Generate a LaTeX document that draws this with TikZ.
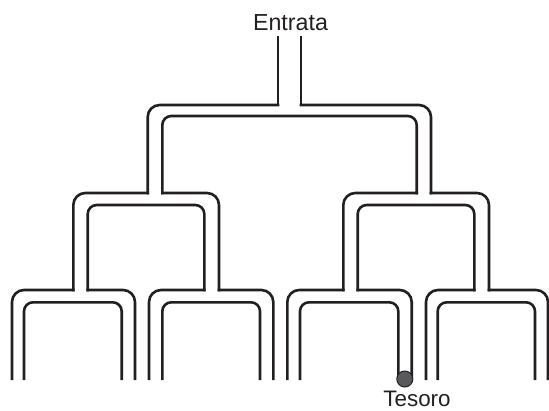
\documentclass[tikz,border=0pt]{standalone}
\usepackage{fontspec}
\setmainfont{Liberation Sans}
\definecolor{ink}{HTML}{231F20}
\definecolor{gem}{HTML}{58595B}
\begin{document}
\begin{tikzpicture}[x=1pt,y=-1pt,
  wall/.style={draw=ink,line width=2.6pt,line cap=rect,line join=miter},
  wide/.style={wall,rounded corners=12pt},
  tight/.style={wall,rounded corners=9pt},
  label/.style={text=ink,inner sep=0pt,anchor=base,text depth=0pt}]
\useasboundingbox (0,0) rectangle (549,410);
% bottom of the open corridors (rect caps add half the line width)
\def\yb{378.7}

% outer wall, left side
\draw[wide] (12,\yb) -- (12,290) -- (73.3,290);
\draw[wide] (73.3,290) -- (73.3,193) -- (147.7,193);
\draw[wide] (147.7,193) -- (147.7,105) -- (278,105);
\draw[wall] (278,105) -- (278,37.3);
% outer wall, right side
\draw[wall] (301,37.3) -- (301,105);
\draw[wide] (301,105) -- (431,105) -- (431,193);
\draw[wide] (431,193) -- (489,193) -- (489,290);
\draw[wide] (489,290) -- (548,290) -- (548,\yb);

% wall between the two halves
\draw[wide] (273.3,\yb) -- (273.3,290) -- (219,290);
\draw[wide] (219,290) -- (219,193) -- (162.3,193);
\draw[tight] (162.3,193) -- (162.3,116) -- (416.7,116) -- (416.7,193);
\draw[wide] (416.7,193) -- (343.3,193) -- (343.3,290);
\draw[wide] (343.3,290) -- (287.3,290) -- (287.3,\yb);

% wall inside the left half
\draw[wide] (135,\yb) -- (135,290) -- (87.7,290);
\draw[tight] (87.7,290) -- (87.7,205) -- (204.3,205) -- (204.3,290);
\draw[wide] (204.3,290) -- (149,290) -- (149,\yb);

% wall inside the right half
\draw[wide] (411.7,376) -- (411.7,290) -- (357.7,290);
\draw[tight] (357.7,290) -- (357.7,205) -- (474.3,205) -- (474.3,290);
\draw[wide] (474.3,290) -- (426,290) -- (426,\yb);

% innermost walls of the four end branches
\draw[tight] (24,\yb) -- (24,302.3) -- (121.7,302.3) -- (121.7,\yb);
\draw[tight] (162.3,\yb) -- (162.3,302.3) -- (260,302.3) -- (260,\yb);
\draw[tight] (300,\yb) -- (300,302.3) -- (398.3,302.3) -- (398.3,376);
\draw[tight] (437.7,\yb) -- (437.7,302.3) -- (535,302.3) -- (535,\yb);

% treasure
\node[circle,fill=gem,draw=ink,line width=1pt,minimum size=16pt,inner sep=0pt] (gemdot) at (404.8,379) {};

\node[label,font=\fontsize{23.2pt}{27pt}\selectfont] (entrata) at (290.5,30.5) {Entrata};
\node[label,font=\fontsize{22.4pt}{26pt}\selectfont] (tesoro) at (417,406.8) {Tesoro};
\end{tikzpicture}
\end{document}
